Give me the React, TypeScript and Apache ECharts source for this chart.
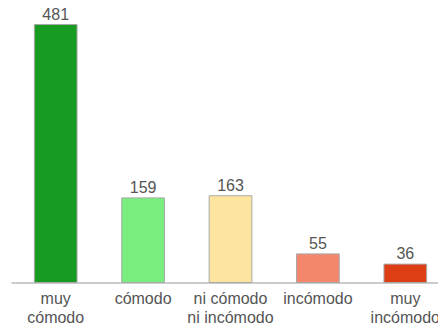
import React, { useEffect, useRef } from "react";
import * as echarts from "echarts";

const categories = ["muy\ncómodo", "cómodo", "ni cómodo\nni incómodo", "incómodo", "muy\nincómodo"];
const values = [481, 159, 163, 55, 36];
const colors = ["#179b20", "#78ee7e", "#fee59f", "#f4866c", "#de3e14"];

export default function App() {
  const ref = useRef<HTMLDivElement>(null);
  useEffect(() => {
    const chart = echarts.init(ref.current!, null, { renderer: "svg" });
    chart.setOption({
      animation: false,
      grid: { left: 12, top: 24, bottom: 46, right: -11, outerBoundsMode: "none" },
      xAxis: {
        type: "category",
        data: categories,
        axisLine: { lineStyle: { color: "#bbbbbb", width: 1.5 } },
        axisTick: { show: false },
        axisLabel: {
          color: "#555555",
          fontSize: 16,
          lineHeight: 19,
          fontFamily: "Liberation Sans, Arial, sans-serif",
          margin: 6,
          interval: 0,
          hideOverlap: false,
        },
      },
      yAxis: {
        type: "value",
        min: 0,
        max: 481,
        show: false,
        splitLine: { show: false },
      },
      series: [
        {
          type: "bar",
          barWidth: "50%",
          data: values.map((v, i) => ({
            value: v,
            itemStyle: { color: colors[i], borderColor: "#a8a8a8", borderWidth: 1 },
          })),
          label: {
            show: true,
            position: "top",
            distance: 2,
            color: "#555555",
            fontSize: 16,
            fontFamily: "Liberation Sans, Arial, sans-serif",
          },
        },
      ],
    });
    return () => chart.dispose();
  }, []);
  return <div ref={ref} style={{ width: 438, height: 329, position: "absolute", left: 0, top: 0 }} />;
}
